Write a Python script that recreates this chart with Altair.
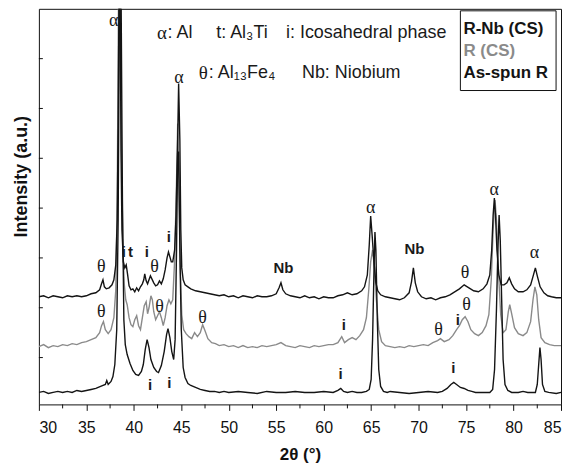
import altair as alt
import pandas as pd

# ---- data: (2theta in degrees, intensity a.u.) ----
RNB_CS = [
    (30.0, 108), (30.5, 109), (31.0, 107), (31.5, 109), (32.0, 108), (32.5, 107), (33.0, 109), (33.5, 108),
    (34.0, 109), (34.5, 108), (35.0, 109), (35.5, 111), (36.0, 112), (36.4, 115), (36.6, 121), (36.75, 125),
    (36.9, 118), (37.1, 116), (37.4, 117), (37.7, 120), (37.9, 125), (38.1, 140), (38.25, 185), (38.35, 285),
    (38.45, 425), (38.55, 425), (38.65, 255), (38.75, 175), (38.9, 143), (39.05, 137), (39.2, 140), (39.35, 130),
    (39.5, 119), (39.7, 115), (39.9, 116), (40.1, 113), (40.3, 117), (40.5, 114), (40.7, 118), (40.9, 121),
    (41.05, 125), (41.15, 131), (41.3, 124), (41.45, 121), (41.6, 125), (41.75, 129), (41.9, 126), (42.1, 122),
    (42.3, 119), (42.5, 120), (42.7, 124), (42.9, 121), (43.1, 126), (43.3, 135), (43.5, 147), (43.65, 153),
    (43.8, 148), (43.95, 143), (44.1, 143), (44.3, 155), (44.45, 190), (44.6, 255), (44.72, 322), (44.85, 265),
    (44.95, 175), (45.05, 137), (45.2, 125), (45.4, 120), (45.7, 118), (46.0, 116), (46.5, 114), (47.0, 113),
    (47.5, 112), (48.0, 111), (48.5, 110), (49.0, 109), (49.5, 110), (50.0, 108), (50.5, 109), (51.0, 107),
    (51.5, 109), (52.0, 108), (52.5, 107), (53.0, 109), (53.5, 108), (54.0, 108), (54.5, 109), (55.0, 111),
    (55.3, 117), (55.5, 122), (55.7, 115), (56.0, 111), (56.5, 109), (57.0, 108), (57.5, 107), (58.0, 109),
    (58.5, 107), (59.0, 108), (59.5, 106), (60.0, 108), (60.5, 107), (61.0, 107), (61.5, 109), (62.0, 110),
    (62.5, 112), (63.0, 110), (63.5, 111), (64.0, 114), (64.3, 118), (64.6, 130), (64.8, 160), (64.95, 189),
    (65.1, 170), (65.3, 143), (65.5, 122), (65.7, 114), (66.0, 110), (66.5, 108), (67.0, 107), (67.5, 106),
    (68.0, 105), (68.5, 107), (69.0, 112), (69.25, 123), (69.45, 137), (69.65, 122), (69.9, 113), (70.3, 108),
    (70.8, 106), (71.3, 107), (71.8, 105), (72.3, 107), (72.8, 108), (73.3, 110), (73.8, 113), (74.3, 116),
    (74.8, 120), (75.3, 117), (75.8, 114), (76.3, 113), (76.8, 116), (77.2, 121), (77.5, 130), (77.7, 155),
    (77.85, 190), (77.98, 207), (78.1, 190), (78.25, 155), (78.45, 130), (78.7, 120), (79.0, 120), (79.3, 122),
    (79.55, 127), (79.8, 121), (80.1, 116), (80.5, 113), (81.0, 113), (81.4, 115), (81.8, 120), (82.1, 130),
    (82.3, 137), (82.5, 129), (82.8, 118), (83.2, 112), (83.6, 109), (84.0, 108), (84.5, 107), (85.0, 107),
]

R_CS = [
    (30.0, 58), (30.5, 60), (31.0, 57), (31.5, 59), (32.0, 58), (32.5, 60), (33.0, 59), (33.5, 61), (34.0, 60),
    (34.5, 62), (35.0, 63), (35.5, 65), (36.0, 67), (36.4, 72), (36.6, 79), (36.8, 83), (37.0, 75), (37.3, 71),
    (37.6, 75), (37.9, 87), (38.1, 115), (38.25, 205), (38.4, 425), (38.55, 425), (38.7, 255), (38.85, 155),
    (39.0, 120), (39.15, 105), (39.3, 100), (39.5, 87), (39.7, 80), (39.9, 78), (40.1, 85), (40.3, 89), (40.5, 79),
    (40.7, 75), (40.9, 87), (41.1, 99), (41.3, 103), (41.45, 91), (41.6, 97), (41.8, 109), (41.95, 105), (42.1, 93),
    (42.3, 85), (42.5, 89), (42.7, 93), (42.9, 87), (43.1, 79), (43.3, 87), (43.5, 99), (43.7, 105), (43.9, 101),
    (44.1, 105), (44.3, 145), (44.5, 225), (44.62, 282), (44.75, 225), (44.9, 135), (45.05, 90), (45.25, 75),
    (45.5, 71), (45.8, 68), (46.1, 66), (46.4, 72), (46.7, 68), (47.0, 72), (47.25, 80), (47.5, 74), (47.8, 66),
    (48.2, 62), (48.6, 61), (49.0, 59), (49.5, 60), (50.0, 58), (50.5, 59), (51.0, 57), (51.5, 59), (52.0, 57),
    (52.5, 58), (53.0, 57), (53.5, 59), (54.0, 58), (54.5, 59), (55.0, 60), (55.5, 62), (56.0, 59), (56.5, 58),
    (57.0, 57), (57.5, 59), (58.0, 58), (58.5, 57), (59.0, 59), (59.5, 58), (60.0, 59), (60.5, 60), (61.0, 60),
    (61.5, 62), (61.9, 68), (62.2, 62), (62.6, 65), (63.0, 67), (63.4, 65), (63.8, 69), (64.2, 75), (64.5, 87),
    (64.75, 115), (64.95, 143), (65.15, 155), (65.35, 137), (65.55, 105), (65.8, 75), (66.1, 63), (66.5, 59),
    (67.0, 58), (67.5, 57), (68.0, 58), (68.5, 57), (69.0, 59), (69.5, 58), (70.0, 59), (70.5, 60), (71.0, 59),
    (71.5, 62), (72.0, 64), (72.3, 66), (72.7, 63), (73.2, 65), (73.6, 69), (74.0, 75), (74.3, 79), (74.6, 85),
    (74.9, 88), (75.2, 83), (75.5, 75), (75.9, 71), (76.3, 69), (76.7, 72), (77.1, 79), (77.4, 90), (77.65, 125),
    (77.85, 175), (78.05, 205), (78.2, 185), (78.4, 135), (78.65, 90), (78.9, 72), (79.2, 75), (79.45, 93),
    (79.6, 100), (79.8, 91), (80.1, 77), (80.5, 71), (81.0, 69), (81.4, 72), (81.8, 83), (82.05, 105),
    (82.25, 118), (82.45, 110), (82.65, 85), (82.9, 67), (83.3, 62), (83.8, 60), (84.3, 59), (85.0, 59),
]

AS_SPUN_R = [
    (30.0, 12), (30.5, 13), (31.0, 11), (31.5, 12), (32.0, 13), (32.5, 12), (33.0, 13), (33.5, 12), (34.0, 14),
    (34.5, 13), (35.0, 14), (35.5, 15), (36.0, 16), (36.5, 18), (37.0, 20), (37.15, 24), (37.3, 20), (37.6, 23),
    (37.8, 28), (38.0, 40), (38.2, 75), (38.35, 185), (38.5, 425), (38.65, 425), (38.8, 205), (38.95, 85),
    (39.1, 60), (39.3, 50), (39.6, 41), (39.9, 34), (40.2, 30), (40.5, 29), (40.8, 33), (41.0, 40), (41.2, 55),
    (41.4, 65), (41.6, 57), (41.8, 45), (42.1, 37), (42.4, 33), (42.6, 32), (42.9, 39), (43.2, 53), (43.45, 70),
    (43.6, 76), (43.8, 67), (44.0, 53), (44.2, 45), (44.35, 65), (44.5, 155), (44.62, 253), (44.72, 253),
    (44.85, 155), (45.0, 75), (45.2, 37), (45.4, 27), (45.7, 21), (46.0, 19), (46.5, 17), (47.0, 15), (47.5, 14),
    (48.0, 13), (48.5, 13), (49.0, 12), (49.5, 13), (50.0, 12), (51.0, 13), (52.0, 12), (53.0, 11), (54.0, 13),
    (55.0, 12), (56.0, 12), (57.0, 13), (58.0, 12), (59.0, 12), (60.0, 13), (61.0, 12), (61.5, 14), (61.8, 16),
    (62.1, 13), (62.5, 12), (63.0, 13), (63.5, 12), (64.0, 12), (64.5, 13), (64.8, 15), (65.0, 25), (65.15, 65),
    (65.3, 135), (65.4, 173), (65.5, 155), (65.65, 85), (65.8, 35), (66.0, 18), (66.3, 13), (66.7, 12), (67.0, 13),
    (68.0, 12), (69.0, 11), (70.0, 12), (71.0, 13), (72.0, 12), (72.5, 13), (73.0, 16), (73.4, 20), (73.7, 22),
    (74.0, 20), (74.4, 17), (74.8, 16), (75.2, 14), (75.6, 13), (76.0, 12), (77.0, 12), (77.5, 12), (77.8, 15),
    (78.0, 35), (78.2, 95), (78.35, 155), (78.48, 190), (78.6, 165), (78.75, 105), (78.9, 45), (79.1, 20),
    (79.4, 14), (79.8, 12), (80.5, 12), (81.0, 13), (81.5, 12), (82.0, 12), (82.3, 12), (82.5, 20), (82.65, 40),
    (82.78, 57), (82.9, 45), (83.05, 20), (83.3, 13), (83.7, 12), (84.5, 11), (85.0, 12),
]

SERIES_NAMES = ["R-Nb (CS)", "R (CS)", "As-spun R"]
SERIES_COLORS = ["#141414", "#8a8a8a", "#141414"]

X_MAJOR = [30, 35, 40, 45, 50, 55, 60, 65, 70, 75, 80, 85]
X_MINOR = [32.5, 37.5, 42.5, 47.5, 52.5, 57.5, 62.5, 67.5, 72.5, 77.5, 82.5]
Y_TICKS = [47, 97, 147, 197, 247, 297, 347]

# phase labels over the peaks: (text, 2theta, intensity)
GREEK_LABELS = [
    ("α", 37.88, 385), ("α", 44.75, 328), ("α", 64.95, 197), ("α", 77.97, 215), ("α", 82.2, 152),
    ("θ", 36.58, 138), ("θ", 42.18, 138), ("θ", 36.58, 93), ("θ", 42.7, 98), ("θ", 47.25, 87),
    ("θ", 74.89, 132), ("θ", 75.06, 100), ("θ", 72.09, 75),
]
LATIN_LABELS = [
    ("i", 38.95, 153), ("t", 39.66, 153), ("i", 41.37, 153), ("i", 43.68, 168), ("Nb", 55.75, 137),
    ("i", 41.72, 19), ("i", 43.75, 21), ("Nb", 69.57, 156), ("i", 62.12, 80), ("i", 74.12, 85),
    ("i", 61.77, 30), ("i", 73.67, 37),
]

# phase key text lines: (text, 2theta at left edge, intensity, serif?)
KEY_TEXT = [
    ("α", 42.45, 373, True), (": Al", 43.55, 373, False), ("t: Al₃Ti", 48.68, 373, False),
    ("i: Icosahedral phase", 56.03, 373, False),
    ("θ", 46.85, 333, True), (": Al₁₃Fe₄", 47.9, 333, False), ("Nb: Niobium", 57.71, 333, False),
]

LEGEND_BOX = [(74.4, 84.48, 315, 395)]
LEGEND_TEXT = [("R-Nb (CS)", 74.72, 377, "#141414"), ("R (CS)", 74.72, 355, "#8a8a8a"),
               ("As-spun R", 74.72, 333, "#141414")]

# ---- build ----
xs = alt.Scale(domain=[30, 85], nice=False, zero=False)
ys = alt.Scale(domain=[0, 397], nice=False, zero=False)

def trace(points, name, color):
    df = pd.DataFrame(points, columns=["deg", "I"])
    df["series"] = name
    return alt.Chart(df).mark_line(color=color, strokeWidth=1.4, clip=True).encode(
        x=alt.X("deg:Q", scale=xs,
                axis=alt.Axis(values=X_MAJOR, title="2θ (°)", format="d", tickSize=6,
                              labelFontSize=16, labelPadding=9, labelColor="#111",
                              titleFontSize=17, titleFontWeight="bold", titleY=50,
                              titleBaseline="middle", domain=False, grid=False,
                              tickColor="#111")),
        y=alt.Y("I:Q", scale=ys,
                axis=alt.Axis(labels=False, ticks=False, domain=False, grid=False,
                              title="Intensity (a.u.)", titleFontSize=18, titleFontWeight="bold",
                              titleX=-17, titleY=168, titleAlign="center", titleBaseline="middle")),
    )

lines = [
    trace(R_CS, SERIES_NAMES[1], SERIES_COLORS[1]),
    trace(AS_SPUN_R, SERIES_NAMES[2], SERIES_COLORS[2]),
    trace(RNB_CS, SERIES_NAMES[0], SERIES_COLORS[0]),
]

minor_df = pd.DataFrame({"deg": X_MINOR})
minor_ticks = alt.Chart(minor_df).mark_rule(color="#111", strokeWidth=1).encode(
    x=alt.X("deg:Q", scale=xs), y=alt.value(397), y2=alt.value(401))

ytick_df = pd.DataFrame({"I": Y_TICKS})
y_ticks = alt.Chart(ytick_df).mark_rule(color="#111", strokeWidth=1).encode(
    y=alt.Y("I:Q", scale=ys), x=alt.value(0), x2=alt.value(4))

greek_df = pd.DataFrame(GREEK_LABELS, columns=["t", "deg", "I"])
greek = alt.Chart(greek_df).mark_text(font="Liberation Serif", fontSize=18, color="#1a1a1a",
                                      baseline="middle", align="center").encode(
    x=alt.X("deg:Q", scale=xs), y=alt.Y("I:Q", scale=ys), text="t:N")

latin_df = pd.DataFrame(LATIN_LABELS, columns=["t", "deg", "I"])
latin = alt.Chart(latin_df).mark_text(font="Liberation Sans", fontSize=15, fontWeight="bold",
                                      color="#1a1a1a", baseline="middle", align="center").encode(
    x=alt.X("deg:Q", scale=xs), y=alt.Y("I:Q", scale=ys), text="t:N")

key_df = pd.DataFrame(KEY_TEXT, columns=["t", "deg", "I", "serif"])
key_serif = alt.Chart(key_df[key_df["serif"]]).mark_text(
    font="Liberation Serif", fontSize=19, color="#1a1a1a", baseline="middle", align="left").encode(
    x=alt.X("deg:Q", scale=xs), y=alt.Y("I:Q", scale=ys), text="t:N")
key_sans = alt.Chart(key_df[~key_df["serif"]]).mark_text(
    font="Liberation Sans", fontSize=18, color="#1a1a1a", baseline="middle", align="left").encode(
    x=alt.X("deg:Q", scale=xs), y=alt.Y("I:Q", scale=ys), text="t:N")

box_df = pd.DataFrame(LEGEND_BOX, columns=["x1", "x2", "y1", "y2"])
box = alt.Chart(box_df).mark_rect(fill="white", stroke="#111", strokeWidth=1).encode(
    x=alt.X("x1:Q", scale=xs), x2="x2:Q", y=alt.Y("y1:Q", scale=ys), y2="y2:Q")

leg_df = pd.DataFrame(LEGEND_TEXT, columns=["t", "deg", "I", "c"])
leg = alt.Chart(leg_df).mark_text(font="Liberation Sans", fontSize=17, fontWeight="bold",
                                  baseline="middle", align="left").encode(
    x=alt.X("deg:Q", scale=xs), y=alt.Y("I:Q", scale=ys), text="t:N",
    color=alt.Color("c:N", scale=None))

chart = alt.layer(*lines, minor_ticks, y_ticks, greek, latin, key_serif, key_sans, box, leg).properties(
    width=524, height=397,
    padding={"left": 31, "top": 0, "right": 2, "bottom": 60},
    autosize=alt.AutoSizeParams(type="none"),
    background="white",
).configure_view(stroke="#111", strokeWidth=1).configure_axis(
    labelFont="Liberation Sans", titleFont="Liberation Sans", titleColor="#111")

chart.save("out.html", embed_options={"renderer": "svg", "actions": False})
